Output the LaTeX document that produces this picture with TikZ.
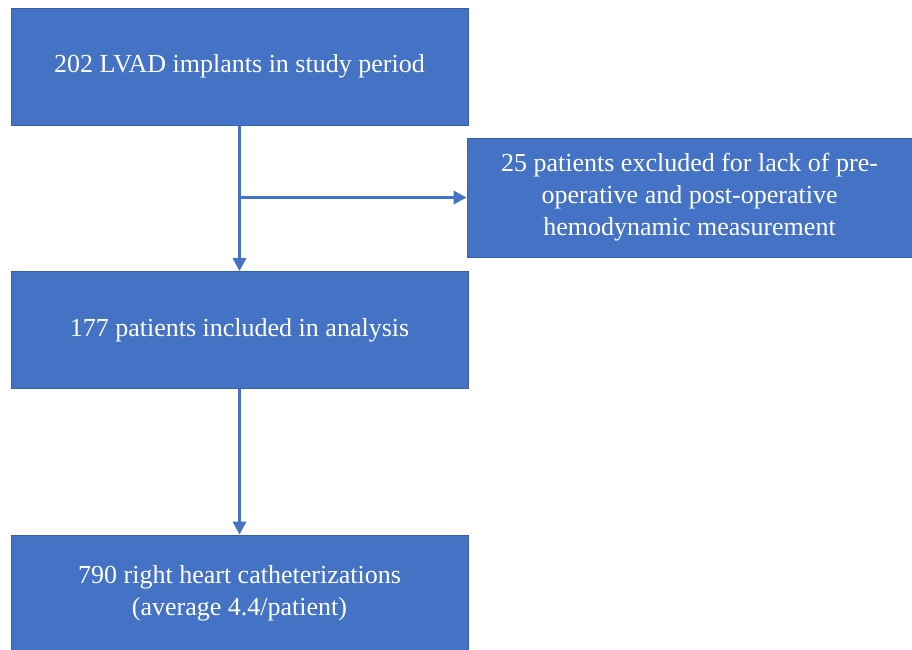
\documentclass[tikz,border=0pt]{standalone}
\usepackage{fontspec}
\setmainfont{Liberation Serif}
\usepackage{tikz}
\usetikzlibrary{arrows.meta, positioning, calc}
\definecolor{boxBlue}{rgb}{0.267, 0.447, 0.769}
\definecolor{edgeBlue}{rgb}{0.22, 0.37, 0.65}

\begin{document}
\begin{tikzpicture}[x=1pt, y=-1pt,
    flowbox/.style={rectangle, draw=edgeBlue, fill=boxBlue, line width=0.8pt, text=white, minimum width=457pt, minimum height=117pt, align=center, font=\fontsize{26}{32}\selectfont},
    sidebox/.style={flowbox, minimum width=445pt, minimum height=119pt},
    arrow/.style={-{Triangle[length=13pt, width=13pt]}, line width=3.2pt, boxBlue}
]
\useasboundingbox (0,0) rectangle (912,649);

% Main column
\node[flowbox] (implants) at (239.5, 66.5) {202 LVAD implants in study period};
\node[flowbox] (included) at (239.5, 330) {177 patients included in analysis};
\node[flowbox] (caths) at (239.5, 593.5) {790 right heart catheterizations\\(average 4.4/patient)};

% Exclusion box (right side)
\node[sidebox] (excluded) at (689.5, 197.5) {25 patients excluded for lack of pre-\\operative and post-operative\\hemodynamic measurement};

% Arrows
\draw[arrow] (implants.south) -- (included.north);
\coordinate (split) at (implants.south |- excluded.west);
\draw[arrow] (split) -- (excluded.west);
\draw[arrow] (included.south) -- (caths.north);

\end{tikzpicture}
\end{document}
